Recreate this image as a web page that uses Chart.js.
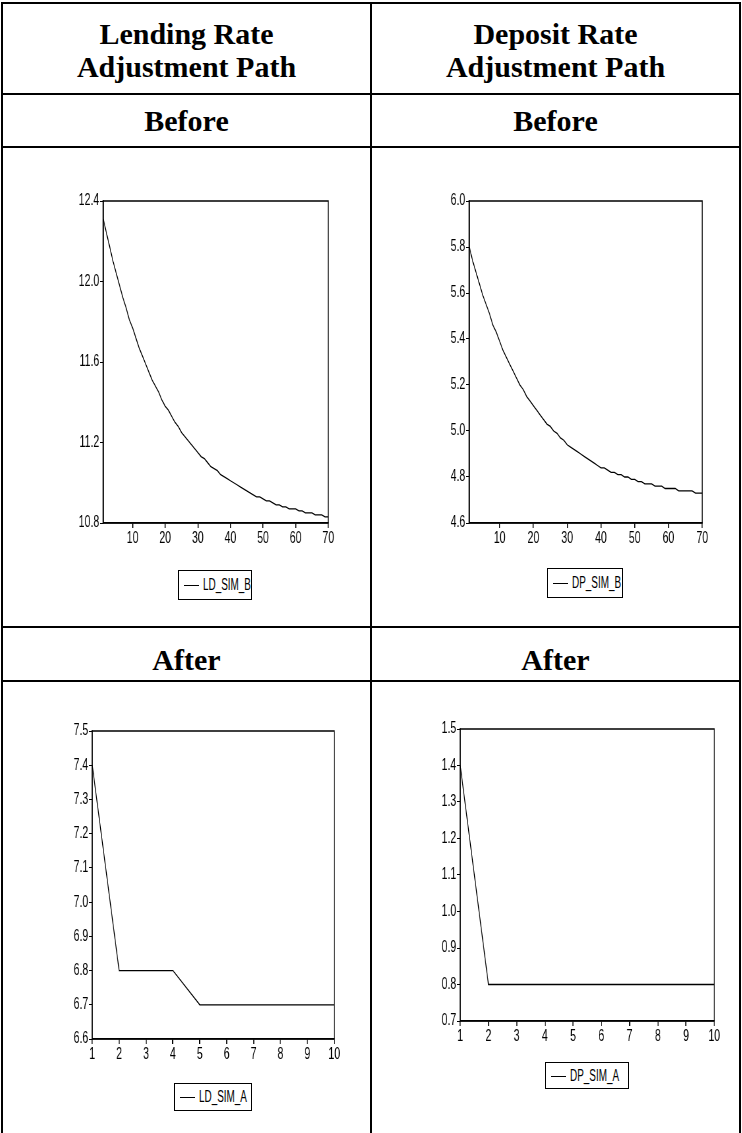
<!DOCTYPE html>
<html>
<head>
<meta charset="utf-8">
<script src="https://cdn.jsdelivr.net/npm/chart.js@4.4.1/dist/chart.umd.min.js"></script>
<style>
  body { margin: 0; background: #fff; }
  #page { position: relative; width: 742px; height: 1133px; overflow: hidden; background: #fff; }
  .rule { position: absolute; background: #000; }
  .head {
    position: absolute; text-align: center; color: #000;
    font-family: 'Liberation Serif', 'Times New Roman', serif; font-weight: bold; font-size: 30px;
    line-height: 33px;
  }
  canvas { position: absolute; transform-origin: 0 0; }
  .legend {
    position: absolute; box-sizing: border-box; border: 1px solid #000; background: #fff;
    color: #000; white-space: nowrap; overflow: hidden;
  }
  .legend i {
    position: absolute; left: 5px; top: 50%; width: 15px; height: 0; border-top: 1px solid #000;
  }
  .legend span {
    position: absolute; left: 24px; top: 50%;
    font-family: 'Liberation Sans', Arial, sans-serif; font-size: 16px; line-height: 16px;
    transform-origin: 0 50%; transform: translateY(-50%) scaleX(0.62);
  }
</style>
</head>
<body>
<div id="page">
  <!-- table rules -->
  <div class="rule" style="left:1px;top:2px;width:740px;height:2px"></div>
  <div class="rule" style="left:1px;top:2px;width:2px;height:1131px"></div>
  <div class="rule" style="left:739px;top:2px;width:2px;height:1131px"></div>
  <div class="rule" style="left:370px;top:2px;width:2px;height:1131px"></div>
  <div class="rule" style="left:1px;top:93px;width:740px;height:2px"></div>
  <div class="rule" style="left:1px;top:146px;width:740px;height:2px"></div>
  <div class="rule" style="left:1px;top:626px;width:740px;height:2px"></div>
  <div class="rule" style="left:1px;top:680px;width:740px;height:2px"></div>

  <div class="head" style="left:3px;width:367px;top:17px">Lending Rate<br>Adjustment Path</div>
  <div class="head" style="left:372px;width:367px;top:17px">Deposit Rate<br>Adjustment Path</div>
  <div class="head" style="left:3px;width:367px;top:104px">Before</div>
  <div class="head" style="left:372px;width:367px;top:104px">Before</div>
  <div class="head" style="left:3px;width:367px;top:643px">After</div>
  <div class="head" style="left:372px;width:367px;top:643px">After</div>

  <canvas id="ldB"></canvas>
  <canvas id="dpB"></canvas>
  <canvas id="ldA"></canvas>
  <canvas id="dpA"></canvas>

  <div class="legend" style="left:178px;top:570px;width:74px;height:30px"><i></i><span>LD_SIM_B</span></div>
  <div class="legend" style="left:547px;top:568px;width:76px;height:30px"><i></i><span>DP_SIM_B</span></div>
  <div class="legend" style="left:174px;top:1083px;width:78px;height:28px"><i></i><span>LD_SIM_A</span></div>
  <div class="legend" style="left:545px;top:1062px;width:84px;height:27px"><i></i><span>DP_SIM_A</span></div>
</div>

<script>
// simulated paths, before the change (70 periods)
const ldSimB = [
  12.31, 12.24, 12.17, 12.10, 12.04, 11.98, 11.92, 11.87, 11.81, 11.77,
  11.72, 11.67, 11.63, 11.59, 11.55, 11.51, 11.48, 11.45, 11.41, 11.38,
  11.36, 11.33, 11.30, 11.28, 11.25, 11.23, 11.21, 11.19, 11.17, 11.15,
  11.13, 11.12, 11.10, 11.08, 11.07, 11.06, 11.04, 11.03, 11.02, 11.01,
  11.00, 10.99, 10.98, 10.97, 10.96, 10.95, 10.94, 10.93, 10.93, 10.92,
  10.91, 10.91, 10.90, 10.89, 10.89, 10.88, 10.88, 10.87, 10.87, 10.87,
  10.86, 10.86, 10.85, 10.85, 10.85, 10.84, 10.84, 10.84, 10.83, 10.83
];
const dpSimB = [
  5.80, 5.74, 5.69, 5.64, 5.59, 5.55, 5.51, 5.46, 5.43, 5.39,
  5.35, 5.32, 5.29, 5.26, 5.23, 5.20, 5.18, 5.15, 5.13, 5.11,
  5.09, 5.07, 5.05, 5.03, 5.02, 5.00, 4.99, 4.97, 4.96, 4.94,
  4.93, 4.92, 4.91, 4.90, 4.89, 4.88, 4.87, 4.86, 4.85, 4.84,
  4.84, 4.83, 4.82, 4.82, 4.81, 4.81, 4.80, 4.80, 4.79, 4.79,
  4.78, 4.78, 4.77, 4.77, 4.77, 4.76, 4.76, 4.76, 4.75, 4.75,
  4.75, 4.75, 4.74, 4.74, 4.74, 4.74, 4.74, 4.73, 4.73, 4.73
];
// simulated paths, after the change (10 periods)
const ldSimA = [7.4, 6.8, 6.8, 6.8, 6.7, 6.7, 6.7, 6.7, 6.7, 6.7];
const dpSimA = [1.4, 0.8, 0.8, 0.8, 0.8, 0.8, 0.8, 0.8, 0.8, 0.8];

// tick labels
const xTicksB = [10, 20, 30, 40, 50, 60, 70];
const xTicksA = [1, 2, 3, 4, 5, 6, 7, 8, 9, 10];
const yTicksLdB = [10.8, 11.2, 11.6, 12.0, 12.4];
const yTicksDpB = [4.6, 4.8, 5.0, 5.2, 5.4, 5.6, 5.8, 6.0];
const yTicksLdA = [6.6, 6.7, 6.8, 6.9, 7.0, 7.1, 7.2, 7.3, 7.4, 7.5];
const yTicksDpA = [0.7, 0.8, 0.9, 1.0, 1.1, 1.2, 1.3, 1.4, 1.5];

// the canvases are drawn wide and squeezed sideways so the labels come out narrow
const SQUEEZE = 0.66;
const tickFont = { family: "'Liberation Sans', Arial, sans-serif", size: 16 };

// box around the plot area
const frame = {
  id: 'frame',
  afterDatasetsDraw(chart) {
    const { ctx, chartArea: a } = chart;
    ctx.save();
    ctx.strokeStyle = '#000';
    ctx.lineWidth = 1.5;
    ctx.strokeRect(a.left, a.top, a.right - a.left, a.bottom - a.top);
    ctx.restore();
  }
};

// area = where the plot box sits on the page
function drawPath(id, values, xTicks, yTicks, area) {
  const yAxisW = 64, xAxisH = 24, padTop = 16, padBottom = 2;
  const plotW = (area.r - area.l) / SQUEEZE;
  const canvas = document.getElementById(id);
  canvas.width = Math.ceil(plotW + yAxisW + 32);
  canvas.height = area.b - area.t + padTop + xAxisH + padBottom;
  const padRight = canvas.width - yAxisW - plotW;
  canvas.style.left = (area.l - yAxisW * SQUEEZE) + 'px';
  canvas.style.top = (area.t - padTop) + 'px';
  canvas.style.transform = 'scaleX(' + SQUEEZE + ')';

  const points = values.map((v, i) => ({ x: i + 1, y: v }));

  return new Chart(canvas, {
    type: 'line',
    data: {
      datasets: [{
        data: points,
        borderColor: '#000',
        borderWidth: 1.3,
        pointRadius: 0,
        tension: 0,
        fill: false
      }]
    },
    options: {
      responsive: false,
      animation: false,
      layout: { padding: { left: 0, top: padTop, right: padRight, bottom: padBottom } },
      plugins: { legend: { display: false }, tooltip: { enabled: false } },
      scales: {
        x: {
          type: 'linear',
          min: 1,
          max: values.length,
          afterBuildTicks: s => { s.ticks = xTicks.map(v => ({ value: v })); },
          afterFit: s => { s.height = xAxisH; },
          grid: { drawOnChartArea: false, drawTicks: true, tickLength: 5, color: '#000', lineWidth: 1.5 },
          border: { color: '#000', width: 1.5 },
          ticks: { color: '#000', font: tickFont, padding: 1, maxRotation: 0, autoSkip: false,
                   callback: v => String(v) }
        },
        y: {
          min: yTicks[0],
          max: yTicks[yTicks.length - 1],
          afterBuildTicks: s => { s.ticks = yTicks.map(v => ({ value: v })); },
          afterFit: s => { s.width = yAxisW; },
          grid: { drawOnChartArea: false, drawTicks: true, tickLength: 5, color: '#000', lineWidth: 1 },
          border: { color: '#000', width: 1.5 },
          ticks: { color: '#000', font: tickFont, padding: 1, autoSkip: false,
                   callback: v => v.toFixed(1) }
        }
      }
    },
    plugins: [frame]
  });
}

drawPath('ldB', ldSimB, xTicksB, yTicksLdB, { l: 103, t: 201, r: 328, b: 523 });
drawPath('dpB', dpSimB, xTicksB, yTicksDpB, { l: 469, t: 201, r: 702, b: 523 });
drawPath('ldA', ldSimA, xTicksA, yTicksLdA, { l: 92, t: 731, r: 334, b: 1039 });
drawPath('dpA', dpSimA, xTicksA, yTicksDpA, { l: 460, t: 729, r: 714, b: 1021 });
</script>
</body>
</html>
